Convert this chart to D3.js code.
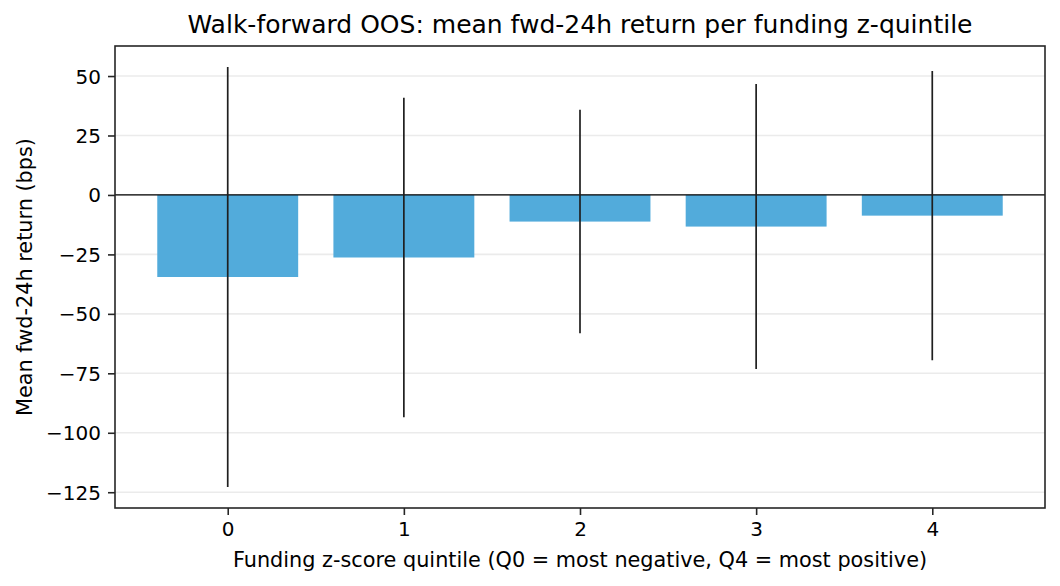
<!DOCTYPE html>
<html>
<head>
<meta charset="utf-8">
<title>fwd-24h by funding quintile</title>
<style>
  body { margin: 0; background: #fff; }
  text { font-family: "DejaVu Sans", sans-serif; fill: #000; }
</style>
</head>
<body>
<div id="chart"></div>
<script src="https://cdn.jsdelivr.net/npm/d3@7"></script>
<script>
// values
var quintiles = [0, 1, 2, 3, 4];
var meanBps = [-34.5, -26.3, -11.2, -13.3, -8.7];
var errBps = [88.3, 67.2, 47.0, 59.9, 60.8];
var yTicks = [-125, -100, -75, -50, -25, 0, 25, 50];

var W = 1060, H = 586;
var plotL = 115, plotR = 1045, plotT = 46, plotB = 508;

var svg = d3.select('#chart')
  .append('svg')
  .attr('width', W)
  .attr('height', H);

// matplotlib-style 5% margins
var lo = d3.min(meanBps, (d, i) => d - errBps[i]);
var hi = d3.max(meanBps, (d, i) => d + errBps[i]);
var pad = (hi - lo) * 0.05;

var x = d3.scaleLinear()
  .domain([-0.4 - 0.24, 4.4 + 0.24])
  .range([plotL, plotR]);

var y = d3.scaleLinear()
  .domain([lo - pad, hi + pad])
  .range([plotB, plotT]);

// grid
svg.append('g')
  .selectAll('line')
  .data(yTicks)
  .join('line')
  .attr('x1', plotL).attr('x2', plotR)
  .attr('y1', d => y(d)).attr('y2', d => y(d))
  .attr('stroke', '#ebebeb')
  .attr('stroke-width', 1.6);

// bars
var bw = x(0.8) - x(0);
svg.append('g')
  .selectAll('rect')
  .data(quintiles)
  .join('rect')
  .attr('x', d => x(d) - bw / 2)
  .attr('width', bw)
  .attr('y', (d, i) => y(Math.max(0, meanBps[i])))
  .attr('height', (d, i) => Math.abs(y(meanBps[i]) - y(0)))
  .attr('fill', '#52abdb');

// zero line
svg.append('line')
  .attr('x1', plotL).attr('x2', plotR)
  .attr('y1', y(0)).attr('y2', y(0))
  .attr('stroke', '#000')
  .attr('stroke-width', 1.3);

// error bars
svg.append('g')
  .selectAll('line')
  .data(quintiles)
  .join('line')
  .attr('x1', d => x(d)).attr('x2', d => x(d))
  .attr('y1', (d, i) => y(meanBps[i] + errBps[i]))
  .attr('y2', (d, i) => y(meanBps[i] - errBps[i]))
  .attr('stroke', '#1f1f1f')
  .attr('stroke-width', 1.7);

// axes
var yAxis = d3.axisLeft(y).tickValues(yTicks).tickSize(7).tickPadding(7)
  .tickFormat(d3.format('d'));
var xAxis = d3.axisBottom(x).tickValues(quintiles).tickSize(7).tickPadding(7)
  .tickFormat(d3.format('d'));

var gy = svg.append('g')
  .attr('transform', 'translate(' + plotL + ',0)')
  .call(yAxis);
var gx = svg.append('g')
  .attr('transform', 'translate(0,' + plotB + ')')
  .call(xAxis);

[gx, gy].forEach(g => {
  g.select('.domain').remove();
  g.selectAll('line').attr('stroke', '#262626').attr('stroke-width', 1.6);
  g.selectAll('text')
    .style('font-family', '"DejaVu Sans", sans-serif')
    .style('font-size', '20px')
    .attr('fill', '#000');
});
gy.selectAll('text').attr('dy', '0.35em');
gx.selectAll('text').attr('dy', '0.72em');

// frame
svg.append('rect')
  .attr('x', plotL).attr('y', plotT)
  .attr('width', plotR - plotL).attr('height', plotB - plotT)
  .attr('fill', 'none')
  .attr('stroke', '#262626')
  .attr('stroke-width', 1.6);

// title and labels
svg.append('text')
  .attr('x', (plotL + plotR) / 2)
  .attr('y', 33)
  .attr('text-anchor', 'middle')
  .style('font-size', '25px')
  .text('Walk-forward OOS: mean fwd-24h return per funding z-quintile');

svg.append('text')
  .attr('x', (plotL + plotR) / 2)
  .attr('y', 567)
  .attr('text-anchor', 'middle')
  .style('font-size', '20.8px')
  .text('Funding z-score quintile (Q0 = most negative, Q4 = most positive)');

svg.append('text')
  .attr('transform', 'translate(32,' + ((plotT + plotB) / 2) + ') rotate(-90)')
  .attr('text-anchor', 'middle')
  .style('font-size', '20.8px')
  .text('Mean fwd-24h return (bps)');
</script>
</body>
</html>
